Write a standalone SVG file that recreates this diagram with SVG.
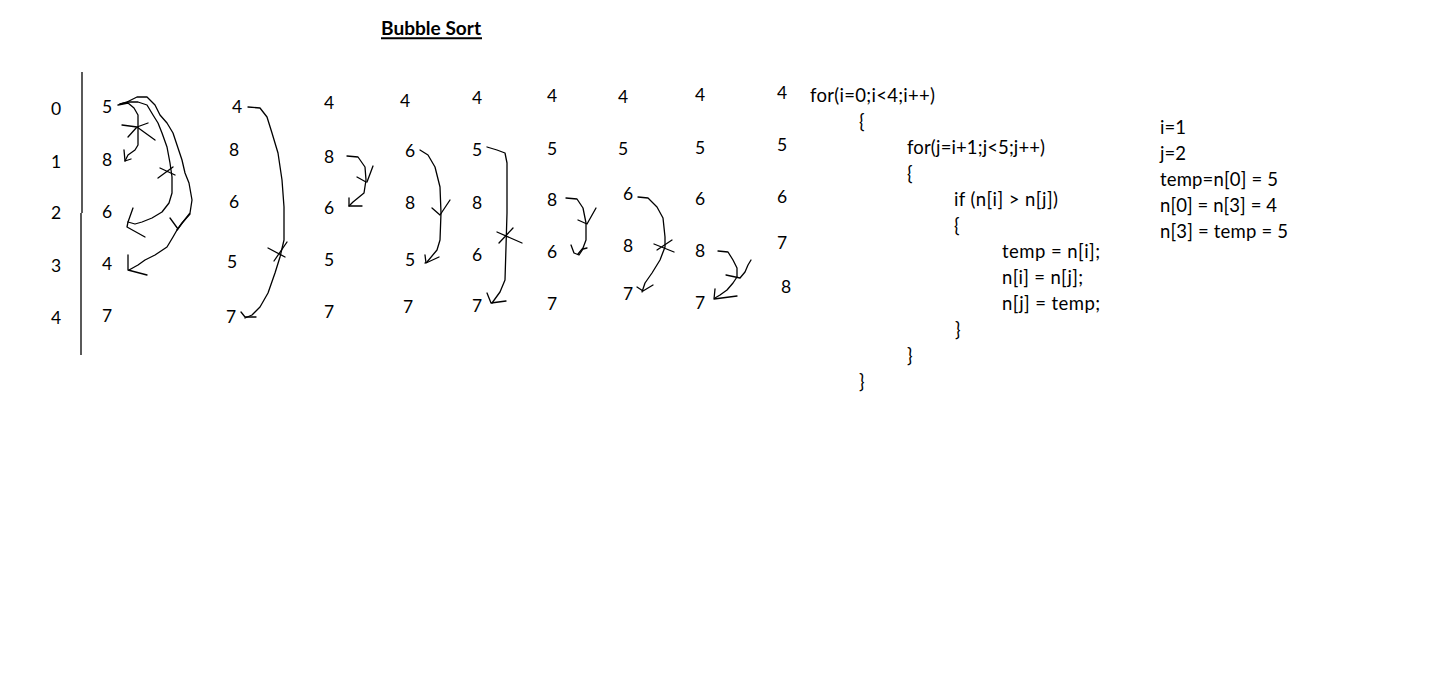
<svg xmlns="http://www.w3.org/2000/svg" width="1436" height="677" viewBox="0 0 1436 677">
<style>
text{font-family:Lato,"Open Sans","Liberation Sans",sans-serif;fill:#000}
.d{font-size:17.5px}
.c{font-size:18.5px}
.t{font-size:19px;font-weight:bold}
.h{fill:none;stroke:#000;stroke-width:1.3;stroke-linejoin:round;stroke-linecap:round}
</style>
<rect width="1436" height="677" fill="#fff"/>
<g id="title">
<text class="t" x="381" y="35" textLength="100" lengthAdjust="spacingAndGlyphs">Bubble Sort</text>
<line x1="381" y1="38.3" x2="482" y2="38.3" stroke="#000" stroke-width="2"/>
</g>
<g id="axis">
<line x1="82" y1="72" x2="82" y2="213" stroke="#000" stroke-width="1.3"/>
<line x1="81" y1="213" x2="81" y2="355" stroke="#000" stroke-width="1.3"/>
</g>
<g id="index">
<text class="d" x="51" y="115">0</text>
<text class="d" x="51" y="168">1</text>
<text class="d" x="51" y="219">2</text>
<text class="d" x="51" y="272">3</text>
<text class="d" x="51" y="324">4</text>
</g>
<g id="col1">
<text class="d" x="102" y="113">5</text>
<text class="d" x="102" y="166">8</text>
<text class="d" x="102" y="218">6</text>
<text class="d" x="102" y="270">4</text>
<text class="d" x="102" y="322">7</text>
</g>
<g id="col2">
<text class="d" x="232" y="113">4</text>
<text class="d" x="229" y="156">8</text>
<text class="d" x="229" y="208">6</text>
<text class="d" x="227" y="268">5</text>
<text class="d" x="226" y="323">7</text>
</g>
<g id="col3">
<text class="d" x="324" y="109">4</text>
<text class="d" x="324" y="163">8</text>
<text class="d" x="324" y="214">6</text>
<text class="d" x="324" y="266">5</text>
<text class="d" x="324" y="318">7</text>
</g>
<g id="col4">
<text class="d" x="400" y="107">4</text>
<text class="d" x="405" y="157">6</text>
<text class="d" x="405" y="209">8</text>
<text class="d" x="405" y="266">5</text>
<text class="d" x="403" y="313">7</text>
</g>
<g id="col5">
<text class="d" x="472" y="104">4</text>
<text class="d" x="472" y="156">5</text>
<text class="d" x="472" y="209">8</text>
<text class="d" x="472" y="261">6</text>
<text class="d" x="472" y="312">7</text>
</g>
<g id="col6">
<text class="d" x="547" y="102">4</text>
<text class="d" x="547" y="155">5</text>
<text class="d" x="547" y="206">8</text>
<text class="d" x="547" y="258">6</text>
<text class="d" x="547" y="310">7</text>
</g>
<g id="col7">
<text class="d" x="618" y="103">4</text>
<text class="d" x="618" y="155">5</text>
<text class="d" x="623" y="200">6</text>
<text class="d" x="623" y="252">8</text>
<text class="d" x="623" y="300">7</text>
</g>
<g id="col8">
<text class="d" x="695" y="101">4</text>
<text class="d" x="695" y="154">5</text>
<text class="d" x="695" y="205">6</text>
<text class="d" x="695" y="257">8</text>
<text class="d" x="695" y="309">7</text>
</g>
<g id="col9">
<text class="d" x="777" y="99">4</text>
<text class="d" x="777" y="151">5</text>
<text class="d" x="777" y="203">6</text>
<text class="d" x="777" y="249">7</text>
<text class="d" x="781" y="293">8</text>
</g>
<g id="code">
<text class="c" x="810" y="102" textLength="125" lengthAdjust="spacing">for(i=0;i&lt;4;i++)</text>
<text class="c" x="859" y="128">{</text>
<text class="c" x="907" y="154" textLength="138" lengthAdjust="spacing">for(j=i+1;j&lt;5;j++)</text>
<text class="c" x="907" y="180">{</text>
<text class="c" x="954" y="206" textLength="104" lengthAdjust="spacing">if (n[i] &gt; n[j])</text>
<text class="c" x="954" y="232">{</text>
<text class="c" x="1002" y="258" textLength="98" lengthAdjust="spacing">temp = n[i];</text>
<text class="c" x="1002" y="284" textLength="81" lengthAdjust="spacing">n[i] = n[j];</text>
<text class="c" x="1002" y="310" textLength="98" lengthAdjust="spacing">n[j] = temp;</text>
<text class="c" x="955" y="336">}</text>
<text class="c" x="907" y="362">}</text>
<text class="c" x="859" y="388">}</text>
</g>
<g id="notes">
<text class="c" x="1160" y="134">i=1</text>
<text class="c" x="1160" y="160">j=2</text>
<text class="c" x="1160" y="186" textLength="118" lengthAdjust="spacing">temp=n[0] = 5</text>
<text class="c" x="1160" y="212" textLength="117" lengthAdjust="spacing">n[0] = n[3] = 4</text>
<text class="c" x="1160" y="238" textLength="128" lengthAdjust="spacing">n[3] = temp = 5</text>
</g>
<g id="connectors" class="h">
<!-- column 1 -->
<path class="h" d="M118,105 L128,103 L134,108 L138,115 L138,127 L138,145 L135,150 L128,155 L125,161"/>
<path class="h" d="M124,150 L125,161 L131,159"/>
<path class="h" d="M122,125 L137,127 L155,140 M128,137 L137,127 L148,123"/>
<path class="h" d="M120,104 L128,102 L138,102 L147,105 L153,115 L158,123 L162,133 L167,147 L170,163 L172,177 L172,193 L169,203 L162,212 L152,218 L142,222 L135,224 L128,222"/>
<path class="h" d="M133,208 L128,222 L127,227 L145,237"/>
<path class="h" d="M158,178 L173,167 M160,168 L175,175"/>
<path class="h" d="M120,104 L127,102 L137,97 L147,97 L155,105 L160,115 L167,123 L173,133 L178,148 L182,160 L185,173 L189,183 L192,200 L190,213 L183,222 L177,230 L173,237 L167,247 L155,255 L145,260 L138,265 L129,270"/>
<path class="h" d="M128,255 L128,270 L147,275"/>
<path class="h" d="M170,218 L178,229 M190,214 L182,223 L177,230"/>
<!-- column 2 -->
<path class="h" d="M248,107 L260,108 L267,117 L272,133 L278,153 L282,180 L284,207 L284,240 L280,257 L275,273 L268,293 L260,307 L252,315 L245,318"/>
<path class="h" d="M241,312 L245,317 L256,317"/>
<path class="h" d="M268,248 L285,257 M287,242 L274,261"/>
<!-- column 3 -->
<path class="h" d="M347,156 L358,157 L365,167 L366,180 L364,193 L353,202 L349,206"/>
<path class="h" d="M349,198 L349,206 L362,206"/>
<path class="h" d="M357,177 L366,182 M373,166 L367,182"/>
<!-- column 4 -->
<path class="h" d="M420,150 L428,155 L435,167 L440,187 L441,213 L440,240 L437,250 L427,262 L425,263"/>
<path class="h" d="M425,255 L426,263 L439,257"/>
<path class="h" d="M432,208 L440,215 M450,200 L440,215"/>
<!-- column 5 -->
<path class="h" d="M487,147 L497,150 L505,153 L507,163 L507,180 L507,213 L506,247 L505,280 L500,292 L492,303"/>
<path class="h" d="M487,293 L491,303 L506,301"/>
<path class="h" d="M497,232 L522,243 M513,228 L499,243"/>
<!-- column 6 -->
<path class="h" d="M566,198 L577,199 L583,208 L586,223 L586,240 L583,248 L578,254"/>
<path class="h" d="M571,245 L574,253 L579,255 L583,249 L587,248"/>
<path class="h" d="M578,220 L587,224 M596,208 L587,224"/>
<!-- column 7 -->
<path class="h" d="M638,197 L648,198 L657,207 L663,218 L665,237 L665,247 L660,260 L652,273 L645,283 L642,292"/>
<path class="h" d="M637,287 L643,291 L653,285"/>
<path class="h" d="M654,244 L674,252 M657,250 L672,240"/>
<!-- column 8 -->
<path class="h" d="M718,251 L728,252 L733,260 L737,268 L737,277 L733,283 L727,290 L720,295 L715,298"/>
<path class="h" d="M715,289 L714,299 L737,296"/>
<path class="h" d="M726,275 L740,278 M751,260 L748,265 L745,272 L740,278"/>
</g>
</svg>
